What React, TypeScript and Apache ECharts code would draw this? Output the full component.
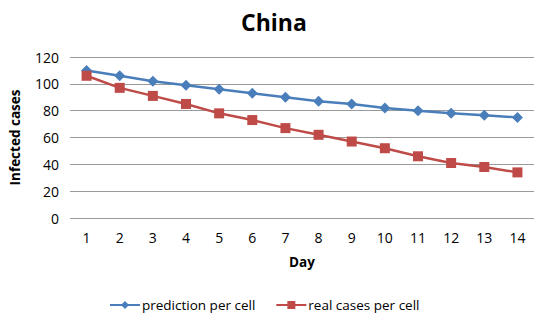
import React, { useEffect, useRef } from "react";
import * as echarts from "echarts";

const days = ["1", "2", "3", "4", "5", "6", "7", "8", "9", "10", "11", "12", "13", "14"];
const prediction = [110, 106, 102, 99, 96, 93, 90, 87, 85, 82, 80, 78, 76.5, 75];
const realCases = [106, 97, 91, 85, 78, 73, 67, 62, 57, 52, 46, 41, 38, 34];
const seriesNames = ["prediction per cell", "real cases per cell"];

const FONT = "'Open Sans', 'Liberation Sans', sans-serif";

export default function App() {
  const ref = useRef<HTMLDivElement>(null);
  useEffect(() => {
    if (!ref.current) return;
    const chart = echarts.init(ref.current, null, { renderer: "svg" });
    chart.setOption({
      animation: false,
      backgroundColor: "#ffffff",
      title: {
        text: "China",
        left: 236,
        top: 5,
        textStyle: { fontFamily: FONT, fontSize: 23, fontWeight: "bold", color: "#000" },
      },
      legend: {
        bottom: 3,
        left: 104,
        itemWidth: 30,
        itemHeight: 10,
        itemGap: 20,
        textStyle: { fontFamily: FONT, fontSize: 13.5, color: "#000", padding: [0, 0, 0, -3] },
        data: seriesNames,
      },
      grid: { left: 68, right: 16, top: 57, bottom: 102, containLabel: false },
      xAxis: {
        type: "category",
        data: days,
        boundaryGap: true,
        name: "Day",
        nameLocation: "middle",
        nameGap: 37,
        nameTextStyle: { fontFamily: FONT, fontSize: 13.5, fontWeight: "bold", color: "#000" },
        axisLine: { show: false },
        axisTick: { show: false },
        axisLabel: { fontFamily: FONT, fontSize: 14, color: "#000", margin: 12 },
      },
      yAxis: {
        type: "value",
        min: 0,
        max: 120,
        interval: 20,
        name: "Infected cases",
        nameLocation: "middle",
        nameGap: 48,
        nameTextStyle: { fontFamily: FONT, fontSize: 13.5, fontWeight: "bold", color: "#000" },
        axisLine: { show: false },
        axisTick: { show: false },
        axisLabel: { fontFamily: FONT, fontSize: 14, color: "#000", margin: 11 },
        splitLine: { lineStyle: { color: "#9a9a9a", width: 1 } },
      },
      series: [
        {
          name: seriesNames[0],
          type: "line",
          data: prediction,
          symbol: "diamond",
          symbolSize: 11,
          lineStyle: { color: "#4a7ebb", width: 2.5 },
          itemStyle: { color: "#4a7ebb" },
        },
        {
          name: seriesNames[1],
          type: "line",
          data: realCases,
          symbol: "rect",
          symbolSize: 10,
          lineStyle: { color: "#be4b48", width: 2.5 },
          itemStyle: { color: "#be4b48" },
        },
      ],
    });
    return () => chart.dispose();
  }, []);
  return <div ref={ref} style={{ width: 550, height: 320, position: "absolute", left: 0, top: 0 }} />;
}
